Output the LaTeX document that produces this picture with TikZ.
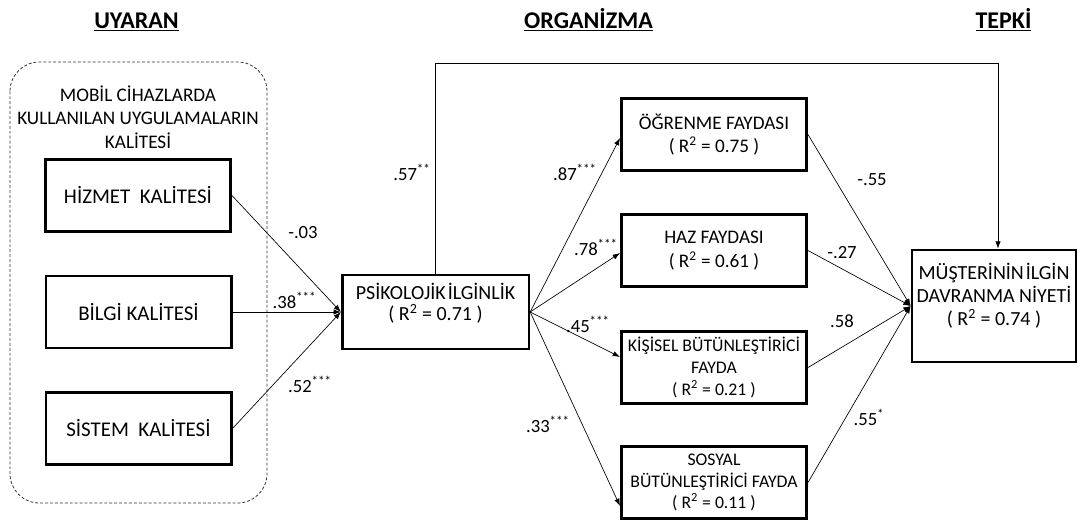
\documentclass[tikz,border=0pt]{standalone}
\usepackage{fontspec}
\setmainfont{Carlito}
\usetikzlibrary{arrows.meta}
\newcommand{\rsq}[1]{( R\textsuperscript{2} = #1 )}
\newcommand{\stars}[1]{\textsuperscript{#1}}

\begin{document}
\begin{tikzpicture}[x=0.75pt,y=-0.75pt,font=\fontsize{14.4}{17.5}\selectfont,>={Latex[length=5.5pt,width=4pt]},
  box/.style={draw,line width=2pt,align=center,minimum width=139pt,minimum height=54pt,inner sep=2pt},
  sbox/.style={box,font=\fontsize{13.3}{16.3}\selectfont},
  lbox/.style={box,font=\fontsize{15.7}{18}\selectfont},
  hd/.style={font=\fontsize{18}{21}\selectfont\bfseries,anchor=base},
  grp/.style={draw=black!80,line width=0.6pt,dash pattern=on 2.2pt off 1.5pt,rounded corners=22pt},
  lnk/.style={->,line width=0.5pt},
  lab/.style={inner sep=0pt,anchor=base,font=\fontsize{14}{16}\selectfont}]
\useasboundingbox (0,0) rectangle (1078,521);

% ---------- headings ----------
\node[hd] (h1) at (136.5,28.3) {\underline{UYARAN}};
\node[hd] (h2) at (588.5,28.3) {\underline{ORGANİZMA}};
\node[hd] (h3) at (1003.5,28.3) {\underline{TEPKİ}};

% ---------- stimulus: app quality ----------
\draw[grp] (10,62) rectangle (267,503);
\node[align=center] (ttl) at (138,117) {MOBİL CİHAZLARDA\\ KULLANILAN UYGULAMALARIN\\ KALİTESİ};
\node[lbox] (hiz) at (138,195.5) {HİZMET\ \ KALİTESİ};
\node[lbox] (bil) at (138.5,312) {BİLGİ KALİTESİ};
\node[lbox] (sis) at (138.5,428.5) {SİSTEM\ \ KALİTESİ};

% ---------- organism ----------
\node[box,font=\fontsize{15}{17.5}\selectfont,minimum width=140pt,minimum height=55.5pt] (psi) at (435.5,312) {PSİKOLOJİK\hspace{1.5pt}İLGİNLİK\\[-2pt] \rsq{0.71}\\[-2pt] ~};
\node[box] (ogr) at (714,134.5) {ÖĞRENME FAYDASI\\ \rsq{0.75}};
\node[box] (haz) at (714,250.5) {HAZ FAYDASI\\ \rsq{0.61}};
\node[sbox] (kis) at (714,367.5) {KİŞİSEL BÜTÜNLEŞTİRİCİ\\ FAYDA\\ \rsq{0.21}};
\node[sbox] (sos) at (714,482.5) {SOSYAL\\ BÜTÜNLEŞTİRİCİ FAYDA\\ \rsq{0.11}};

% ---------- response ----------
\node[box,font=\fontsize{15}{17.5}\selectfont,minimum width=123pt,minimum height=84pt] (mus) at (994,306) {MÜŞTERİNİN\hspace{1.5pt}İLGİN\\ DAVRANMA NİYETİ\\ \rsq{0.74}\\ ~};

% ---------- paths ----------
\draw[lnk] (hiz.east) -- (psi.west);
\draw[lnk] (bil.east) -- (psi.west);
\draw[lnk] (sis.east) -- (psi.west);
\draw[lnk] (psi.east) -- ([yshift=-2.6pt]ogr.west);
\draw[lnk] (psi.east) -- ([yshift=-1.9pt]haz.west);
\draw[lnk] (psi.east) -- ([yshift=7.9pt]kis.west);
\draw[lnk] (psi.east) -- ([yshift=-17.6pt]sos.west);
\draw[lnk] (ogr.east) -- (mus.west);
\draw[lnk] (haz.east) -- (mus.west);
\draw[lnk] (kis.east) -- (mus.west);
\draw[lnk] (sos.east) -- (mus.west);
\coordinate (top) at (998,63);
\draw[lnk] (psi.north) |- (top) -- (top |- mus.north);

% ---------- coefficients ----------
\node[lab] (c1) at (303,238) {-.03};
\node[lab] (c2) at (294.5,308) {.38\stars{***}};
\node[lab] (c3) at (310,392) {.52\stars{***}};
\node[lab] (c4) at (412,180) {.57\stars{**}};
\node[lab] (c5) at (575,180) {.87\stars{***}};
\node[lab] (c6) at (596,255) {.78\stars{***}};
\node[lab] (c7) at (588,332) {.45\stars{***}};
\node[lab] (c8) at (548,432) {.33\stars{***}};
\node[lab] (c9) at (872,185) {-.55};
\node[lab] (c10) at (842,258) {-.27};
\node[lab] (c11) at (842,327) {.58};
\node[lab] (c12) at (869,425) {.55\stars{*}};
\end{tikzpicture}
\end{document}
